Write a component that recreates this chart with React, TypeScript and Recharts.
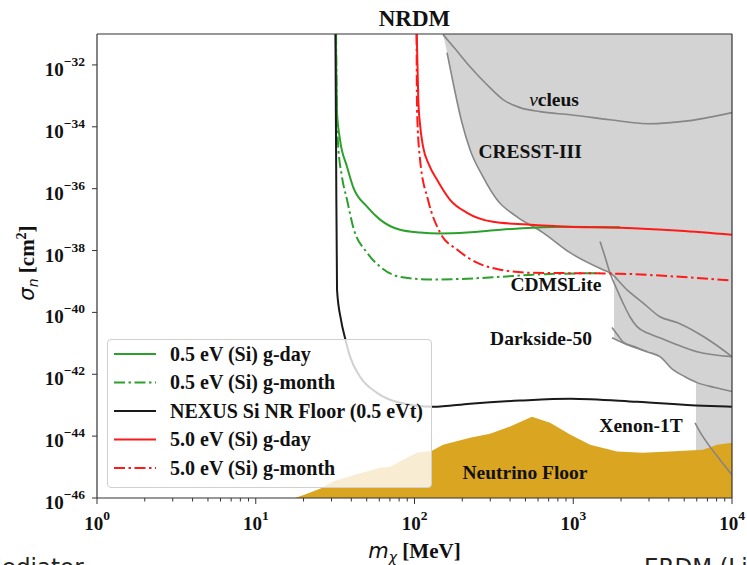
import {
  ComposedChart,
  Line,
  Area,
  XAxis,
  YAxis,
  ReferenceLine,
  ReferenceDot,
  Legend,
} from 'recharts'

const SERIF = '"Liberation Serif", "Times New Roman", serif'
const SANS = '"DejaVu Sans", sans-serif'

type Pt = { x: number; y: number }
const pts = (a: number[][]): Pt[] => a.map(([x, y]) => ({ x, y }))

// x = log10(m_chi / MeV), y = log10(sigma_n / cm^2)
const siDay05 = pts([
  [1.504, -31.0], [1.508, -32.48], [1.512, -33.54], [1.531, -34.42], [1.575, -35.29],
  [1.613, -35.94], [1.701, -36.58], [1.783, -37.0], [1.909, -37.33], [2.035, -37.42],
  [2.161, -37.45], [2.331, -37.42], [2.539, -37.33], [2.746, -37.26], [2.961, -37.23],
  [3.294, -37.25],
])
const siMonth05 = pts([
  [1.506, -31.0], [1.512, -33.87], [1.518, -34.51], [1.543, -35.61], [1.575, -36.36],
  [1.613, -37.23], [1.701, -38.07], [1.783, -38.52], [1.909, -38.85], [2.117, -38.94],
  [2.331, -38.91], [2.539, -38.85], [2.746, -38.78], [2.917, -38.75], [3.168, -38.73],
])
const nexusFloor = pts([
  [1.502, -31.0], [1.506, -34.74], [1.512, -39.27], [1.537, -40.24], [1.562, -40.82],
  [1.594, -41.43], [1.657, -42.08], [1.764, -42.6], [1.909, -42.92], [2.117, -43.05],
  [2.35, -42.95], [2.665, -42.85], [2.98, -42.79], [3.402, -42.89], [3.817, -43.02],
  [4.0, -43.05],
])
const siDay50 = pts([
  [2.014, -31.0], [2.024, -33.12], [2.035, -33.93], [2.054, -34.64], [2.091, -35.22],
  [2.142, -35.71], [2.224, -36.36], [2.331, -36.78], [2.494, -37.07], [2.709, -37.16],
  [2.961, -37.23], [3.294, -37.26], [3.672, -37.36], [4.0, -37.49],
])
const siMonth50 = pts([
  [2.013, -31.0], [2.016, -33.45], [2.035, -35.06], [2.085, -36.36], [2.161, -37.42],
  [2.268, -37.97], [2.394, -38.39], [2.539, -38.62], [2.746, -38.72], [2.961, -38.73],
  [3.294, -38.75], [3.672, -38.85], [4.0, -38.97],
])

// excluded parameter space (filled up to the top of the axes)
const excluded = pts([
  [2.18, -31.0], [2.205, -31.6], [2.243, -32.57], [2.299, -33.87], [2.35, -34.74],
  [2.431, -35.61], [2.52, -36.36], [2.646, -36.91], [2.809, -37.42], [2.98, -38.07],
  [3.187, -38.62], [3.257, -38.78], [3.257, -40.82], [3.357, -41.08], [3.465, -41.27],
  [3.546, -41.43], [3.628, -41.85], [3.704, -42.08], [3.773, -42.27], [3.773, -46.0],
  [4.0, -46.0],
])
const nuFloor = pts([
  [1.247, -46.0], [1.31, -45.89], [1.405, -45.7], [1.487, -45.47], [1.625, -45.25],
  [1.783, -45.02], [1.846, -44.99], [1.928, -44.76], [2.016, -44.54], [2.11, -44.47],
  [2.18, -44.28], [2.35, -44.05], [2.476, -43.92], [2.602, -43.69], [2.74, -43.37],
  [2.854, -43.57], [2.98, -43.95], [3.106, -44.28], [3.276, -44.5], [3.439, -44.54],
  [3.609, -44.5], [3.817, -44.44], [3.906, -44.28], [4.0, -44.21],
])

// experiment limits
const nucleus = pts([
  [2.18, -31.02], [2.261, -31.51], [2.35, -32.06], [2.457, -32.64], [2.558, -33.12],
  [2.665, -33.38], [2.791, -33.51], [2.98, -33.61], [3.231, -33.77], [3.465, -33.9],
  [3.735, -33.8], [4.0, -33.54],
])
const cresst = pts([
  [2.205, -31.6], [2.243, -32.57], [2.299, -33.87], [2.35, -34.74], [2.431, -35.61],
  [2.52, -36.36], [2.646, -36.91], [2.809, -37.42], [2.98, -38.07], [3.187, -38.62],
  [3.231, -38.72], [3.339, -39.27], [3.439, -39.69], [3.546, -40.14], [3.654, -40.33],
  [3.78, -40.66], [3.88, -40.98], [4.0, -41.43],
])
const cdmsLite = pts([
  [3.169, -37.71], [3.2, -38.2], [3.231, -38.72], [3.276, -39.27], [3.313, -39.69],
  [3.357, -40.14], [3.402, -40.46], [3.465, -40.66], [3.546, -40.82], [3.672, -41.08],
  [3.78, -41.27], [4.0, -41.43],
])
const darksideA = pts([
  [3.244, -40.49], [3.282, -40.75], [3.313, -40.95], [3.389, -41.11], [3.465, -41.27],
  [3.546, -41.43], [3.628, -41.85], [3.704, -42.08], [3.78, -42.27], [3.893, -42.43],
  [4.0, -42.56],
])
const darksideB = pts([[3.244, -40.82], [3.357, -41.08], [3.465, -41.27]])
const xenon = pts([[3.767, -43.57], [3.798, -43.86], [3.861, -44.34], [3.924, -44.76], [4.0, -45.25]])

const xMajorTicks = [0, 1, 2, 3, 4]
const xMinorTicks = [0, 1, 2, 3].flatMap((d) => [2, 3, 4, 5, 6, 7, 8, 9].map((k) => d + Math.log10(k)))
const yTicks = [-46, -44, -42, -40, -38, -36, -34, -32]

const legendNames = [
  '0.5 eV (Si) g-day',
  '0.5 eV (Si) g-month',
  'NEXUS Si NR Floor (0.5 eVt)',
  '5.0 eV (Si) g-day',
  '5.0 eV (Si) g-month',
]

const labelNames = ['cleus', 'CRESST-III', 'CDMSLite', 'Darkside-50', 'Xenon-1T', 'Neutrino Floor']
const labelX = [2.879, 2.728, 2.891, 2.797, 3.427, 2.696]
const labelY = [-33.32, -35.0, -39.3, -41.04, -43.86, -45.38]

const GREEN = '#2ca02c'
const RED = '#ff1a1a'
const DASHDOT = '11 3.5 2.5 3.5'
const legendStyle = [
  { stroke: GREEN, dash: undefined },
  { stroke: GREEN, dash: DASHDOT },
  { stroke: '#1a1a1a', dash: undefined },
  { stroke: RED, dash: undefined },
  { stroke: RED, dash: DASHDOT },
]

function XTick({ x, y, payload }: any) {
  const v = payload.value
  const major = Math.abs(v - Math.round(v)) < 1e-6
  return (
    <g>
      <line x1={x} x2={x} y1={y} y2={y + (major ? 6 : 3.5)} stroke="#333" />
      {major && (
        <text x={x} y={y + 32} textAnchor="middle" fontFamily={SERIF} fontWeight="bold" fontSize={19} fill="#111">
          10<tspan dy={-10} fontSize={13.5}>{Math.round(v)}</tspan>
        </text>
      )}
    </g>
  )
}

function YTick({ x, y, payload }: any) {
  return (
    <g>
      <line x1={x - 5} x2={x} y1={y} y2={y} stroke="#333" />
      <text x={x - 12} y={y + 11} textAnchor="end" fontFamily={SERIF} fontWeight="bold" fontSize={19} fill="#111">
        10<tspan dy={-10} fontSize={13.5}>{'\u2212' + Math.abs(payload.value)}</tspan>
      </text>
    </g>
  )
}

function LegendBox() {
  return (
    <div
      style={{
        width: 325,
        height: 149,
        boxSizing: 'border-box',
        border: '1px solid #d0d0d0',
        borderRadius: 4,
        background: 'rgba(255,255,255,0.8)',
      }}
    >
      <svg width={323} height={147} style={{ display: 'block' }}>
        {legendNames.map((n, i) => {
          const cy = 14 + 28.5 * i
          return (
            <g key={n}>
              <line x1={6} x2={48} y1={cy} y2={cy} stroke={legendStyle[i].stroke} strokeWidth={2} strokeDasharray={legendStyle[i].dash} />
              <text x={62} y={cy + 6.5} fontFamily={SERIF} fontWeight="bold" fontSize={20} fill="#111">
                {n}
              </text>
            </g>
          )
        })}
      </svg>
    </div>
  )
}

function LabelText(props: any, i: number) {
  return (
    <text x={props.cx} y={props.cy} textAnchor="middle" fontFamily={SERIF} fontWeight="bold" fontSize={19.5} fill="#111">
      {i === 0 && <tspan fontStyle="italic" fontWeight="normal">ν</tspan>}
      {labelNames[i]}
    </text>
  )
}

export default function App() {
  return (
    <div style={{ position: 'relative', width: 747, height: 565, overflow: 'hidden', background: '#fff' }}>
      <style>{'body{margin:0}'}</style>
      <ComposedChart width={747} height={565} margin={{ top: 34, right: 15, bottom: 0, left: 0 }}>
        <XAxis
          type="number"
          dataKey="x"
          domain={[0, 4]}
          ticks={[...xMajorTicks, ...xMinorTicks]}
          interval={0}
          height={67}
          tickLine={false}
          tickSize={0}
          tickMargin={0}
          axisLine={{ stroke: '#333', strokeWidth: 1.2 }}
          tick={(p: any) => <XTick {...p} />}
          allowDataOverflow
          label={{
            content: (p: any) => {
              const vb = p.viewBox
              return (
                <text x={vb.x + vb.width / 2} y={vb.y + 60} textAnchor="middle" fontSize={21} fill="#111">
                  <tspan fontFamily={SANS} fontStyle="italic">m</tspan>
                  <tspan fontFamily={SANS} fontStyle="italic" fontSize={14} dy={4}>χ</tspan>
                  <tspan fontFamily={SERIF} fontWeight="bold" dy={-4}> [MeV]</tspan>
                </text>
              )
            },
          }}
        />
        <YAxis
          type="number"
          dataKey="y"
          domain={[-46, -31]}
          ticks={yTicks}
          interval={0}
          width={97}
          tickLine={false}
          tickSize={0}
          tickMargin={0}
          axisLine={{ stroke: '#333', strokeWidth: 1.2 }}
          tick={(p: any) => <YTick {...p} />}
          allowDataOverflow
          label={{
            content: (p: any) => {
              const vb = p.viewBox
              const cx = vb.x + 34
              const cy = vb.y + vb.height / 2 - 3
              return (
                <text x={cx} y={cy} transform={`rotate(-90 ${cx} ${cy})`} textAnchor="middle" fontSize={21} fill="#111">
                  <tspan fontFamily={SANS} fontStyle="italic">σ</tspan>
                  <tspan fontFamily={SANS} fontStyle="italic" fontSize={14} dy={4}>n</tspan>
                  <tspan fontFamily={SERIF} fontWeight="bold" dy={-4}> [cm</tspan>
                  <tspan fontFamily={SERIF} fontWeight="bold" fontSize={14} dy={-8}>2</tspan>
                  <tspan fontFamily={SERIF} fontWeight="bold" dy={8}>]</tspan>
                </text>
              )
            },
          }}
        />

        <Area data={excluded} dataKey="y" type="linear" baseValue="dataMax" fill="#d3d3d3" fillOpacity={1} stroke="none" isAnimationActive={false} />
        <Area data={nuFloor} dataKey="y" type="linear" baseValue="dataMin" fill="#daa520" fillOpacity={1} stroke="none" isAnimationActive={false} />

        {[nucleus, cresst, cdmsLite, darksideA, darksideB, xenon].map((d, i) => (
          <Line key={'g' + i} data={d} dataKey="y" type="monotone" stroke="#868686" strokeWidth={1.6} dot={false} isAnimationActive={false} />
        ))}

        <Line data={siDay05} dataKey="y" type="monotone" stroke={GREEN} strokeWidth={2} dot={false} isAnimationActive={false} />
        <Line data={siMonth05} dataKey="y" type="monotone" stroke={GREEN} strokeWidth={2} strokeDasharray={DASHDOT} dot={false} isAnimationActive={false} />
        <Line data={nexusFloor} dataKey="y" type="monotone" stroke="#1a1a1a" strokeWidth={2} dot={false} isAnimationActive={false} />
        <Line data={siDay50} dataKey="y" type="monotone" stroke={RED} strokeWidth={2} dot={false} isAnimationActive={false} />
        <Line data={siMonth50} dataKey="y" type="monotone" stroke={RED} strokeWidth={2} strokeDasharray={DASHDOT} dot={false} isAnimationActive={false} />

        <ReferenceLine y={-31} stroke="#333" strokeWidth={1.2} />
        <ReferenceLine x={4} stroke="#333" strokeWidth={1.2} />

        {labelNames.map((n, i) => (
          <ReferenceDot key={n} x={labelX[i]} y={labelY[i]} r={0} shape={(p: any) => LabelText(p, i)} />
        ))}

        <Legend
          layout="horizontal"
          verticalAlign="middle"
          align="center"
          content={() => <LegendBox />}
          wrapperStyle={{ left: 107, top: 339, width: 325, height: 149 }}
        />
      </ComposedChart>
      <svg width={747} height={565} style={{ position: 'absolute', left: 0, top: 0, pointerEvents: 'none' }}>
        <text x={414.5} y={26} textAnchor="middle" fontFamily={SERIF} fontWeight="bold" fontSize={23} fill="#111">
          NRDM
        </text>
        <text x={-18} y={575} fontFamily={SANS} fontSize={23} fill="#222">
          Mediator
        </text>
        <text x={644} y={575} fontFamily={SANS} fontSize={23} fill="#222">
          ERDM (Light
        </text>
      </svg>
    </div>
  )
}
